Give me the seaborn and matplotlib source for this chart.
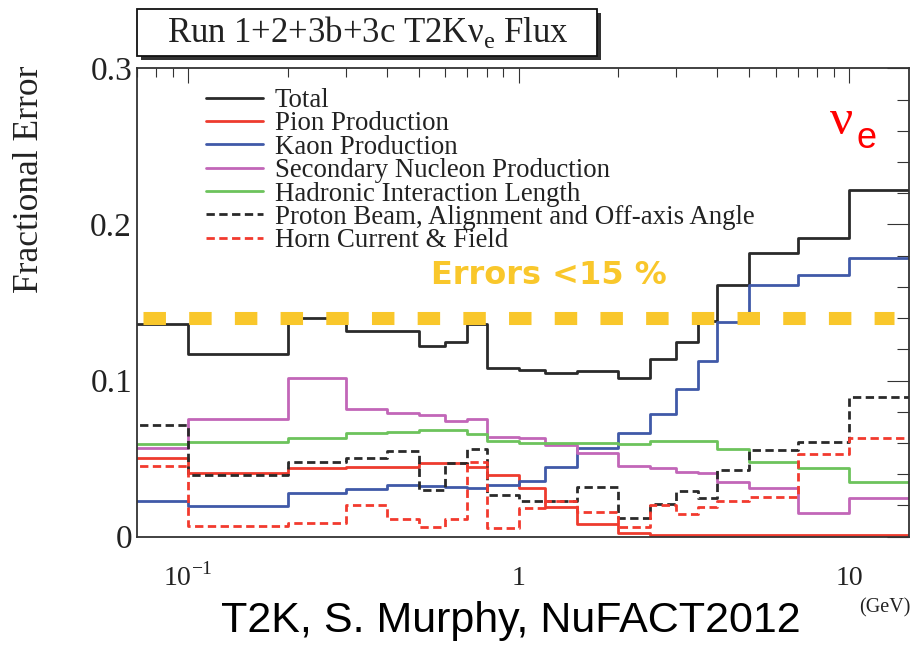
import numpy as np
import matplotlib
matplotlib.use("Agg")
import matplotlib.pyplot as plt
import seaborn as sns
from matplotlib.patches import Rectangle
from matplotlib.ticker import FixedLocator, FixedFormatter, MultipleLocator, LogLocator, NullFormatter

# ---------------- data (bin edges in GeV, fractional errors per bin) ----------------
edges = [0.0, 0.1, 0.2, 0.3, 0.4, 0.5, 0.6, 0.7, 0.8, 1.0, 1.2, 1.5, 2.0, 2.5, 3.0,
         3.5, 4.0, 5.0, 7.0, 10.0, 30.0]
total = [0.136, 0.117, 0.140, 0.132, 0.132, 0.122, 0.125, 0.136, 0.108, 0.107,
         0.105, 0.106, 0.1015, 0.114, 0.125, 0.138, 0.161, 0.182, 0.191, 0.222]
pion = [0.0506, 0.041, 0.0438, 0.0449, 0.0449, 0.047, 0.047, 0.0449, 0.0396, 0.031,
        0.0188, 0.0079, 0.0025, 0.001, 0.001, 0.001, 0.001, 0.001, 0.001, 0.001]
kaon = [0.023, 0.0195, 0.0278, 0.0304, 0.0331, 0.0325, 0.0321, 0.031, 0.0333, 0.0359,
        0.0449, 0.0567, 0.0663, 0.0786, 0.0945, 0.1126, 0.1375, 0.1615, 0.1677, 0.1782]
nucleon = [0.0567, 0.0753, 0.1015, 0.0817, 0.0795, 0.078, 0.074, 0.0755, 0.064, 0.063,
           0.059, 0.0534, 0.0455, 0.0442, 0.0417, 0.0405, 0.0353, 0.031, 0.015, 0.025]
hadronic = [0.0592, 0.0609, 0.063, 0.0663, 0.0673, 0.0684, 0.0684, 0.0655, 0.0615, 0.060,
            0.060, 0.0599, 0.0592, 0.0612, 0.0612, 0.0612, 0.056, 0.048, 0.0438, 0.0353]
proton = [0.0716, 0.0392, 0.048, 0.0507, 0.0551, 0.030, 0.047, 0.056, 0.0267, 0.023,
          0.0226, 0.032, 0.0122, 0.0212, 0.029, 0.0247, 0.0425, 0.0556, 0.0609, 0.0893]
horn = [0.0455, 0.0071, 0.0085, 0.0205, 0.0115, 0.0064, 0.0115, 0.0476, 0.0053, 0.0187,
        0.0227, 0.016, 0.0064, 0.020, 0.0148, 0.019, 0.023, 0.0254, 0.0528, 0.0635]

labels = ["Total", "Pion Production", "Kaon Production", "Secondary Nucleon Production",
          "Hadronic Interaction Length", "Proton Beam, Alignment and Off-axis Angle",
          "Horn Current & Field"]
series = [total, pion, kaon, nucleon, hadronic, proton, horn]
colors = ["#2a2a2a", "#EE3B2E", "#4059A8", "#C266B8", "#6DC35C", "#2a2a2a", "#F23A2E"]
styles = ["-", "-", "-", "-", "-", (0, (3.0, 1.6)), (0, (3.0, 1.6))]

threshold = 0.14
xtick_vals = [0.1, 1, 10]
xtick_labels = ["10$^{-1}$", "1", "10"]
ytick_vals = [0, 0.1, 0.2, 0.3]
ytick_labels = ["0", "0.1", "0.2", "0.3"]

# ---------------- style ----------------
sns.set_theme(style="white")
plt.rcParams["font.family"] = ["Liberation Serif", "DejaVu Serif"]
plt.rcParams["mathtext.fontset"] = "custom"
plt.rcParams["mathtext.rm"] = "Liberation Serif"
plt.rcParams["mathtext.sf"] = "Liberation Sans"

W, H = 916, 645
fig = plt.figure(figsize=(W / 100, H / 100), dpi=100)
fig.patch.set_facecolor("white")
L, R, T, B = 137, 909, 68.3, 536.7
ax = fig.add_axes([L / W, 1 - B / H, (R - L) / W, (B - T) / H])

for vals, lab, c, ls in zip(series, labels, colors, styles):
    sns.lineplot(x=edges, y=vals + vals[-1:], ax=ax, color=c, linestyle=ls,
                 linewidth=2.0, drawstyle="steps-post", label=lab,
                 errorbar=None, estimator=None, sort=False, legend=False)

handles, hl = ax.get_legend_handles_labels()

ax.set_xscale("log")
ax.set_xlim(0.07, 15.2)
ax.set_ylim(0, 0.3)

# threshold dashed line
ax.axhline(threshold, xmin=(143 - L) / (R - L), xmax=(894 - L) / (R - L),
           color="#F9C72B", linewidth=9.4, linestyle=(0, (1.72, 1.78)),
           dash_capstyle="butt", zorder=5)

# ticks
ax.xaxis.set_major_locator(FixedLocator(xtick_vals))
ax.xaxis.set_major_formatter(FixedFormatter(xtick_labels))
ax.xaxis.set_minor_locator(LogLocator(base=10, subs=np.arange(2, 10)))
ax.xaxis.set_minor_formatter(NullFormatter())
ax.yaxis.set_major_locator(FixedLocator(ytick_vals))
ax.yaxis.set_major_formatter(FixedFormatter(ytick_labels))
ax.yaxis.set_minor_locator(MultipleLocator(0.02))

ax.tick_params(axis="both", which="both", direction="in", top=True, right=True,
               color="#333333", width=0.8, labelcolor="#222222")
ax.tick_params(axis="x", which="major", length=10.8, labelsize=20, pad=35)
ax.tick_params(axis="x", which="minor", length=6.5)
ax.tick_params(axis="y", which="major", length=15.8, labelsize=24, pad=3.6)
ax.tick_params(axis="y", which="minor", length=8.6)
for t in ax.xaxis.get_major_ticks():
    t.label1.set_verticalalignment("baseline")
for sp in ax.spines.values():
    sp.set_color("#333333")
    sp.set_linewidth(1.3)

leg = ax.legend(handles, hl, loc="upper left",
                bbox_to_anchor=((206 - L) / (R - L), (B - 88) / (B - T)),
                frameon=False, fontsize=19.4, handlelength=2.1, handletextpad=0.45,
                labelspacing=-0.06, borderpad=0, borderaxespad=0)
for t in leg.get_texts():
    t.set_color("#222222")

# annotations
fig.text(431 / W, 1 - 284 / H, "Errors <15 %", family=["DejaVu Sans"],
         fontweight="bold", fontsize=23, color="#F9C72B", ha="left", va="baseline")
fig.text(830 / W, 1 - 134 / H, "ν", family=["Liberation Serif"], fontsize=37,
         color="#FF0000", ha="left", va="baseline")
fig.text(857 / W, 1 - 148 / H, "e", family=["Liberation Sans"], fontsize=26,
         color="#FF0000", ha="left", va="baseline")

# title box with shadow
fig.add_artist(Rectangle((141 / W, 1 - 59.5 / H), 460 / W, 46.8 / H,
                         transform=fig.transFigure, facecolor="#333333",
                         edgecolor="none"))
fig.add_artist(Rectangle((137 / W, 1 - 55.5 / H), 460 / W, 46.8 / H,
                         transform=fig.transFigure, facecolor="white",
                         edgecolor="#111111", linewidth=1.3))
fig.text(368 / W, 1 - 32 / H, "Run 1+2+3b+3c T2Kν$_\\mathrm{e}$ Flux", fontsize=25,
         ha="center", va="center", color="#222222")

fig.text(30 / W, 1 - 179 / H, "Fractional Error", rotation=90, fontsize=25.5,
         ha="center", va="center", color="#222222")
fig.text(910 / W, 1 - 608 / H, "(GeV)", fontsize=14.5, ha="right", va="center",
         color="#222222")
fig.text(511 / W, 1 - 631.7 / H, "T2K, S. Murphy, NuFACT2012",
         family=["Liberation Sans"], fontsize=31, ha="center", va="baseline",
         color="black")

fig.savefig("out.png", dpi=100, facecolor="white")
